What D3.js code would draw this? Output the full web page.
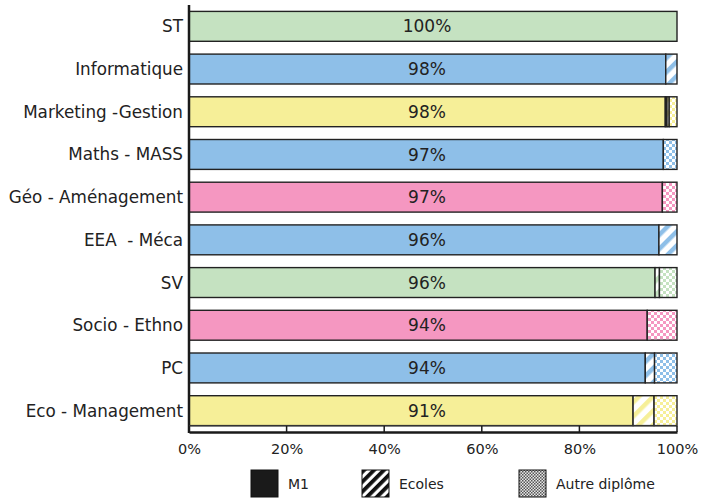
<!DOCTYPE html>
<html><head><meta charset="utf-8">
<script src="https://cdn.jsdelivr.net/npm/d3@7"></script>
<style>body{margin:0;background:#fff}svg{display:block;font-family:"DejaVu Sans",sans-serif}text{white-space:pre}</style>
</head><body><svg id="c" width="712" height="500"></svg>
<script>
const categories = ["ST","Informatique","Marketing -Gestion","Maths - MASS","Géo - Aménagement","EEA  - Méca","SV","Socio - Ethno","PC","Eco - Management"];
const mainShare = [100, 97.7, 97.6, 97.2, 97.0, 96.3, 95.5, 93.9, 93.5, 91.0];
const m1 = [0, 0, 0.35, 0, 0, 0, 0, 0, 0, 0];
const ecoles = [0, 2.3, 0.45, 0, 0, 3.7, 0.9, 0, 1.9, 4.3];
const autre = [0, 0, 1.6, 2.8, 3.0, 0, 3.6, 6.1, 4.6, 4.7];
const barLabels = ["100%","98%","98%","97%","97%","96%","96%","94%","94%","91%"];
const groups = ["green","blue","yellow","blue","pink","blue","green","pink","blue","yellow"];
const tickValues = [0, 20, 40, 60, 80, 100];
const legendLabels = ["M1","Ecoles","Autre diplôme"];
const colors = {green:"#c5e2c1", blue:"#8ebfe8", yellow:"#f6ef98", pink:"#f597c1"};

const svg = d3.select("#c");
const x = d3.scaleLinear().domain([0,100]).range([189,677]);
const y = d3.scaleBand().domain(categories).range([5,432]).paddingInner(0.3).paddingOuter(0.15);
const ink = "#222";

const defs = svg.append("defs");
Object.entries(colors).forEach(([k,c])=>{
  const h = defs.append("pattern").attr("id","hatch-"+k).attr("patternUnits","userSpaceOnUse")
    .attr("width",10).attr("height",10).attr("patternTransform","rotate(45)");
  h.append("rect").attr("width",10).attr("height",10).attr("fill","#fff");
  h.append("rect").attr("width",4.5).attr("height",10).attr("fill",c);
  const ch = defs.append("pattern").attr("id","check-"+k).attr("patternUnits","userSpaceOnUse")
    .attr("width",6).attr("height",6);
  ch.append("rect").attr("width",6).attr("height",6).attr("fill","#fff");
  ch.append("rect").attr("width",3).attr("height",3).attr("fill",c);
  ch.append("rect").attr("x",3).attr("y",3).attr("width",3).attr("height",3).attr("fill",c);
});
const lh = defs.append("pattern").attr("id","hatch-leg").attr("patternUnits","userSpaceOnUse")
  .attr("width",7).attr("height",7).attr("patternTransform","rotate(45)");
lh.append("rect").attr("width",7).attr("height",7).attr("fill","#fff");
lh.append("rect").attr("width",3.8).attr("height",7).attr("fill","#111");
const lc = defs.append("pattern").attr("id","check-leg").attr("patternUnits","userSpaceOnUse")
  .attr("width",3).attr("height",3);
lc.append("rect").attr("width",3).attr("height",3).attr("fill","#e8e8e8");
lc.append("rect").attr("width",1.5).attr("height",1.5).attr("fill","#555");
lc.append("rect").attr("x",1.5).attr("y",1.5).attr("width",1.5).attr("height",1.5).attr("fill","#555");

// bars
categories.forEach((cat,i)=>{
  const g = groups[i];
  const segs = [
    {v: mainShare[i], fill: colors[g]},
    {v: m1[i], fill: "#1a1a1a"},
    {v: ecoles[i], fill: `url(#hatch-${g})`},
    {v: autre[i], fill: `url(#check-${g})`}
  ];
  let acc = 0;
  segs.forEach(s=>{
    if (s.v > 0) {
      svg.append("rect").attr("x", x(acc)).attr("y", y(cat))
        .attr("width", x(acc+s.v)-x(acc)).attr("height", y.bandwidth())
        .attr("fill", s.fill).attr("stroke", ink).attr("stroke-width", 1.4);
    }
    acc += s.v;
  });
  svg.append("text").attr("x", 427).attr("y", y(cat)+y.bandwidth()/2).attr("dy","0.36em")
    .attr("text-anchor","middle").attr("font-size",17).attr("fill",ink).text(barLabels[i]);
  svg.append("text").attr("x", 183).attr("y", y(cat)+y.bandwidth()/2).attr("dy","0.36em")
    .attr("text-anchor","end").attr("font-size",16.8).attr("fill",ink).text(cat);
});

// axes
svg.append("line").attr("x1",189).attr("x2",189).attr("y1",5).attr("y2",433).attr("stroke","#1a1a1a").attr("stroke-width",2.5);
svg.append("line").attr("x1",189).attr("x2",677).attr("y1",426).attr("y2",426).attr("stroke","#444").attr("stroke-width",1.2);
const xAxis = d3.axisBottom(x).tickValues(tickValues).tickFormat(d=>d+"%").tickSize(0).tickPadding(12);
const ax = svg.append("g").attr("transform","translate(0,432)").call(xAxis);
ax.select(".domain").attr("stroke","#1a1a1a").attr("stroke-width",2.5);
ax.selectAll("text").attr("font-size",14.5).attr("fill",ink).attr("font-family","DejaVu Sans, sans-serif");
svg.selectAll(".tk").data(tickValues).enter().append("line")
  .attr("x1",d=>x(d)).attr("x2",d=>x(d)).attr("y1",426).attr("y2",432)
  .attr("stroke","#1a1a1a").attr("stroke-width",1.5);

// legend
const legX = [251, 362, 519];
const legFill = ["#1a1a1a","url(#hatch-leg)","url(#check-leg)"];
legendLabels.forEach((l,i)=>{
  svg.append("rect").attr("x",legX[i]).attr("y",470).attr("width",27).attr("height",27)
    .attr("fill",legFill[i]).attr("stroke","#111").attr("stroke-width",1);
  svg.append("text").attr("x",legX[i]+37).attr("y",484).attr("dy","0.36em")
    .attr("font-size",14).attr("fill",ink).text(l);
});
</script></body></html>
